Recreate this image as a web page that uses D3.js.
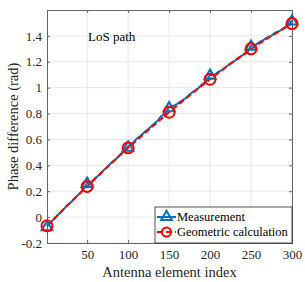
<!DOCTYPE html>
<html>
<head>
<meta charset="utf-8">
<script src="https://cdn.jsdelivr.net/npm/d3@7.9.0/dist/d3.min.js"></script>
<style>
  body { margin: 0; background: #fff; }
  svg { display: block; font-family: "Liberation Serif", "DejaVu Serif", serif; }
</style>
</head>
<body>
<svg id="chart" width="305" height="282"></svg>
<script>
// measurement, sampled every 5 elements
const measIdx = [1, 5, 10, 15, 20, 25, 30, 35, 40, 45, 50, 55, 60, 65, 70, 75, 80, 85, 90, 95,
  100, 105, 110, 115, 120, 125, 130, 135, 140, 145, 150, 155, 160, 165, 170, 175, 180, 185, 190, 195,
  200, 205, 210, 215, 220, 225, 230, 235, 240, 245, 250, 255, 260, 265, 270, 275, 280, 285, 290, 295, 300];
const measVal = [-0.07, -0.045, -0.012, 0.022, 0.05, 0.088, 0.113, 0.148, 0.176, 0.212, 0.265, 0.268, 0.302, 0.328, 0.362, 0.388, 0.423, 0.447, 0.482, 0.508,
  0.545, 0.568, 0.603, 0.627, 0.658, 0.683, 0.712, 0.738, 0.778, 0.798, 0.85, 0.858, 0.875, 0.898, 0.918, 0.948, 0.972, 0.992, 1.025, 1.048,
  1.1, 1.098, 1.122, 1.138, 1.163, 1.188, 1.207, 1.228, 1.252, 1.268, 1.325, 1.328, 1.352, 1.368, 1.388, 1.402, 1.427, 1.438, 1.462, 1.478, 1.52];

// geometric calculation
const geoIdx = [1, 25, 50, 75, 100, 125, 150, 175, 200, 225, 250, 275, 300];
const geoVal = [-0.067, 0.085, 0.237, 0.39, 0.535, 0.675, 0.81, 0.94, 1.065, 1.185, 1.3, 1.4, 1.495];

const markerIdx = [1, 50, 100, 150, 200, 250, 300];

const xTicks = [50, 100, 150, 200, 250, 300];
const yTicks = [-0.2, 0, 0.2, 0.4, 0.6, 0.8, 1, 1.2, 1.4];

const blue = "#0072BD";
const red = "#FF0000";

const width = 305, height = 282;
const margin = { top: 10, right: 13, bottom: 39, left: 47 };

const svg = d3.select("#chart");

const x = d3.scaleLinear().domain([1, 300]).range([margin.left, width - margin.right]);
const y = d3.scaleLinear().domain([-0.2, 1.6]).range([height - margin.bottom, margin.top]);

const x0 = margin.left, x1 = width - margin.right;
const y0 = height - margin.bottom, y1 = margin.top;

// grid
svg.append("g")
  .selectAll("line")
  .data(xTicks)
  .join("line")
  .attr("x1", d => x(d)).attr("x2", d => x(d))
  .attr("y1", y0).attr("y2", y1)
  .attr("stroke", "#e8e8e8");
svg.append("g")
  .selectAll("line")
  .data(yTicks)
  .join("line")
  .attr("x1", x0).attr("x2", x1)
  .attr("y1", d => y(d)).attr("y2", d => y(d))
  .attr("stroke", "#e8e8e8");

// axes (ticks inward)
const tickLen = 3;
const axisColor = "#666";

svg.append("g")
  .attr("transform", `translate(0,${y0})`)
  .call(d3.axisBottom(x).tickValues(xTicks).tickSize(-tickLen).tickPadding(7));
svg.append("g")
  .attr("transform", `translate(${x0},0)`)
  .call(d3.axisLeft(y).tickValues(yTicks).tickSize(-tickLen).tickPadding(5)
    .tickFormat(d => String(Math.round(d * 10) / 10)));
svg.append("g")
  .attr("transform", `translate(0,${y1})`)
  .call(d3.axisTop(x).tickValues(xTicks).tickSize(-tickLen).tickFormat(""));
svg.append("g")
  .attr("transform", `translate(${x1},0)`)
  .call(d3.axisRight(y).tickValues(yTicks).tickSize(-tickLen).tickFormat(""));

svg.selectAll(".domain").attr("stroke", axisColor);
svg.selectAll(".tick line").attr("stroke", axisColor);
svg.selectAll(".tick text")
  .attr("fill", "#262626")
  .style("font-size", "13px")
  .style("font-family", "'Liberation Serif', serif");

// data lines
const line = d3.line().x(d => x(d[0])).y(d => y(d[1]));
const measData = measIdx.map((d, i) => [d, measVal[i]]);
const geoData = geoIdx.map((d, i) => [d, geoVal[i]]);

svg.append("path")
  .datum(measData)
  .attr("d", line)
  .attr("fill", "none")
  .attr("stroke", blue)
  .attr("stroke-width", 2);

svg.append("path")
  .datum(geoData)
  .attr("d", line)
  .attr("fill", "none")
  .attr("stroke", red)
  .attr("stroke-width", 2)
  .attr("stroke-dasharray", "6,3");

const tri = d3.symbol().type(d3.symbolTriangle).size(50);

svg.append("g")
  .selectAll("path")
  .data(markerIdx)
  .join("path")
  .attr("d", tri)
  .attr("transform", d => `translate(${x(d)},${y(measVal[measIdx.indexOf(d)]) + 1})`)
  .attr("fill", "none")
  .attr("stroke", blue)
  .attr("stroke-width", 2);

svg.append("g")
  .selectAll("circle")
  .data(markerIdx)
  .join("circle")
  .attr("cx", d => x(d))
  .attr("cy", d => y(geoVal[geoIdx.indexOf(d)]))
  .attr("r", 5.5)
  .attr("fill", "none")
  .attr("stroke", red)
  .attr("stroke-width", 2);

// annotation
svg.append("text")
  .attr("x", x(51))
  .attr("y", y(1.4) + 5)
  .attr("fill", "#000")
  .style("font-size", "13px")
  .text("LoS path");

// axis labels
svg.append("text")
  .attr("x", (x0 + x1) / 2)
  .attr("y", 277)
  .attr("text-anchor", "middle")
  .attr("fill", "#262626")
  .style("font-size", "14.5px")
  .text("Antenna element index");

svg.append("text")
  .attr("transform", `translate(18,${(y0 + y1) / 2}) rotate(-90)`)
  .attr("text-anchor", "middle")
  .attr("fill", "#262626")
  .style("font-size", "14.5px")
  .text("Phase difference (rad)");

// legend
const lg = svg.append("g").attr("transform", "translate(155,207)");
lg.append("rect")
  .attr("width", x1 - 155).attr("height", y0 - 207)
  .attr("fill", "#fff")
  .attr("stroke", "#262626")
  .attr("stroke-width", 0.8);

const legendItems = [
  { label: "Measurement", color: blue, dash: null, mark: "tri" },
  { label: "Geometric calculation", color: red, dash: "6,3", mark: "circle" }
];

legendItems.forEach((it, i) => {
  const cy = 10 + i * 15;
  lg.append("line")
    .attr("x1", 2).attr("x2", 21)
    .attr("y1", cy).attr("y2", cy)
    .attr("stroke", it.color).attr("stroke-width", 2)
    .attr("stroke-dasharray", it.dash);
  if (it.mark === "tri") {
    lg.append("path").attr("d", tri)
      .attr("transform", `translate(11.5,${cy})`)
      .attr("fill", "none").attr("stroke", it.color).attr("stroke-width", 2);
  } else {
    lg.append("circle").attr("cx", 11.5).attr("cy", cy).attr("r", 4.5)
      .attr("fill", "none").attr("stroke", it.color).attr("stroke-width", 2);
  }
  lg.append("text")
    .attr("x", 22).attr("y", cy + 4)
    .attr("fill", "#000")
    .style("font-size", "12.5px")
    .text(it.label);
});
</script>
</body>
</html>
